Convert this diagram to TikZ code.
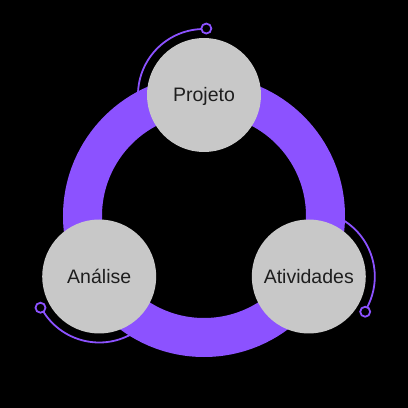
\documentclass[tikz,border=0pt]{standalone}
\usepackage{fontspec}
\setmainfont{Liberation Sans}
\usetikzlibrary{calc}
\definecolor{ringpurple}{HTML}{8C52FF}
\definecolor{bubblegray}{HTML}{C8C8C8}
\definecolor{textdark}{HTML}{1E1E1E}
\tikzset{
  bubble/.style={circle, fill=bubblegray, minimum size=114pt, inner sep=0pt,
    text=textdark, font=\fontsize{19.5}{22}\selectfont, text height=14pt, text depth=0pt},
  thinarc/.style={draw=ringpurple, line width=1.8pt},
  endring/.style={draw=ringpurple, line width=1.8pt, fill=black},
  ringband/.style={draw=ringpurple, line width=39pt}
}
\begin{document}
\begin{tikzpicture}[x=1pt,y=1pt]
\fill[black] (0,0) rectangle (408,408);
\useasboundingbox (0,0) rectangle (408,408);
\coordinate (c) at (204,192);
% thin decorative arcs (drawn first so the ring hides their ends)
\foreach \ang in {90,-30,210}{
  \begin{scope}[shift={(c)}]
    \coordinate (nc) at (\ang:121);
    \draw[thinarc] ($(nc)+(\ang+92:66)$) arc[start angle=\ang+92, end angle=\ang+2.5, radius=66];
    \draw[endring] ($(nc)+(\ang-2:66.5)$) circle[radius=5];
  \end{scope}
}
% ring
\draw[ringband] (c) circle[radius=121.5];
% bubbles
\node[bubble] (p) at ($(c)+(90:121)$) {Projeto};
\node[bubble] (a) at ($(c)+(-30:121)$) {Atividades};
\node[bubble] (an) at ($(c)+(210:121)$) {Análise};
\end{tikzpicture}
\end{document}
